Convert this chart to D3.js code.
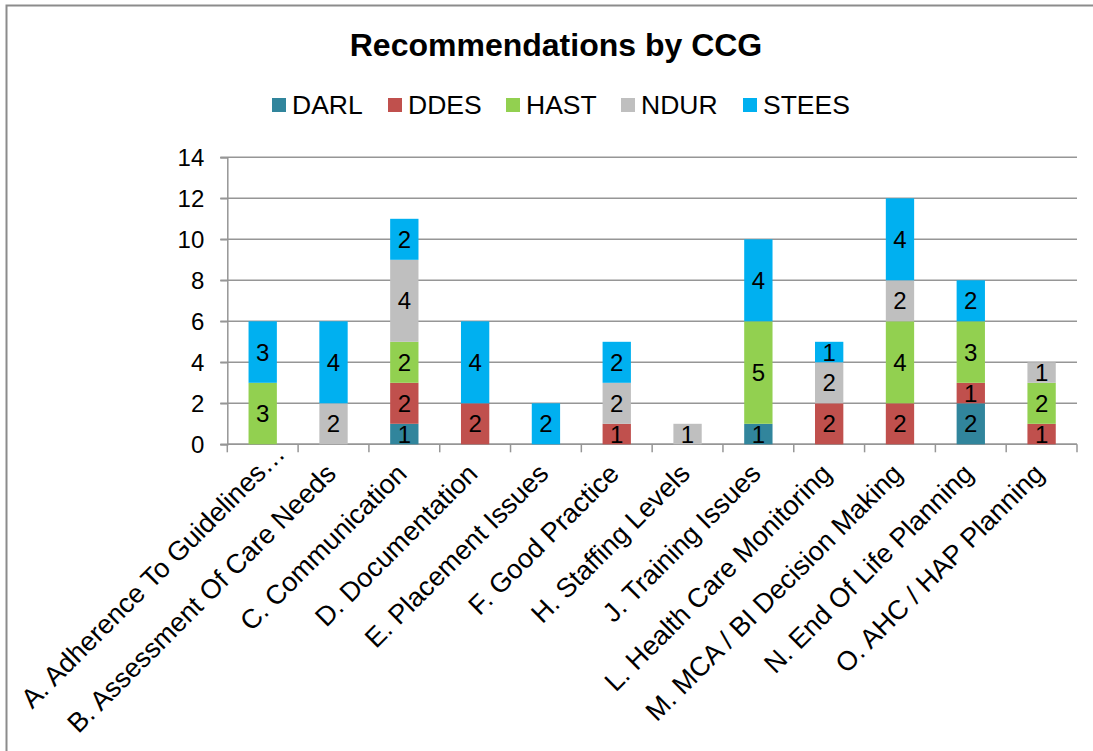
<!DOCTYPE html>
<html>
<head>
<meta charset="utf-8">
<script src="https://cdn.jsdelivr.net/npm/d3@7"></script>
<style>
  html, body { margin: 0; padding: 0; background: #fff; }
  svg { display: block; font-family: "Liberation Sans", Arial, sans-serif; }
</style>
</head>
<body>
<svg id="chart" width="1093" height="751"></svg>
<script>
const categories = [
  "A. Adherence To Guidelines…",
  "B. Assessment Of Care Needs",
  "C. Communication",
  "D. Documentation",
  "E. Placement Issues",
  "F. Good Practice",
  "H. Staffing Levels",
  "J. Training Issues",
  "L. Health Care Monitoring",
  "M. MCA / BI Decision Making",
  "N. End Of Life Planning",
  "O. AHC / HAP Planning"
];
const seriesNames = ["DARL", "DDES", "HAST", "NDUR", "STEES"];
const DARL  = [0, 0, 1, 0, 0, 0, 0, 1, 0, 0, 2, 0];
const DDES  = [0, 0, 2, 2, 0, 1, 0, 0, 2, 2, 1, 1];
const HAST  = [3, 0, 2, 0, 0, 0, 0, 5, 0, 4, 3, 2];
const NDUR  = [0, 2, 4, 0, 0, 2, 1, 0, 2, 2, 0, 1];
const STEES = [3, 4, 2, 4, 2, 2, 0, 4, 1, 4, 2, 0];
const yTicks = [0, 2, 4, 6, 8, 10, 12, 14];
const title = "Recommendations by CCG";
const colors = ["#31859C", "#C0504D", "#92D050", "#BFBFBF", "#00B0F0"];

const seriesValues = [DARL, DDES, HAST, NDUR, STEES];
const rows = categories.map((c, i) => {
  const r = { category: c };
  seriesNames.forEach((s, k) => { r[s] = seriesValues[k][i]; });
  return r;
});

const svg = d3.select("#chart");
const plot = { left: 227.3, right: 1077, top: 157.3, bottom: 444.3 };

// outer chart border
svg.append("rect")
  .attr("x", 6.5).attr("y", 5.5)
  .attr("width", 1200).attr("height", 900)
  .attr("fill", "#fff").attr("stroke", "#8c8c8c").attr("stroke-width", 2);

const x = d3.scaleBand()
  .domain(categories)
  .range([plot.left, plot.right])
  .paddingInner(0.6)
  .paddingOuter(0.3);

const y = d3.scaleLinear().domain([0, 14]).range([plot.bottom, plot.top]);
const color = d3.scaleOrdinal().domain(seriesNames).range(colors);

// gridlines
svg.append("g")
  .selectAll("line")
  .data(yTicks)
  .join("line")
  .attr("x1", plot.left - 7).attr("x2", plot.right)
  .attr("y1", d => y(d)).attr("y2", d => y(d))
  .attr("stroke", "#969696").attr("stroke-width", 1.5);

// y axis
const yAxis = svg.append("g")
  .attr("transform", `translate(${plot.left},0)`)
  .call(d3.axisLeft(y).tickValues(yTicks).tickSize(7).tickPadding(16).tickFormat(d3.format("d")));
yAxis.select(".domain").attr("stroke", "#969696").attr("stroke-width", 1.5);
yAxis.selectAll(".tick line").attr("stroke", "#969696").attr("stroke-width", 1.5);
yAxis.selectAll(".tick text")
  .attr("font-size", 24).attr("fill", "#000")
  .attr("font-family", "Liberation Sans, Arial, sans-serif")
  .attr("dy", "0.36em");

// x axis line and ticks at band boundaries
const boundaries = d3.range(categories.length + 1).map(i => plot.left + i * x.step());
svg.append("line")
  .attr("x1", plot.left).attr("x2", plot.right)
  .attr("y1", plot.bottom).attr("y2", plot.bottom)
  .attr("stroke", "#969696").attr("stroke-width", 1.5);
svg.append("g").selectAll("line")
  .data(boundaries)
  .join("line")
  .attr("x1", d => d).attr("x2", d => d)
  .attr("y1", plot.bottom).attr("y2", plot.bottom + 8)
  .attr("stroke", "#969696").attr("stroke-width", 1.5);

// stacked bars
const stacked = d3.stack().keys(seriesNames)(rows);

svg.append("g").selectAll("g")
  .data(stacked)
  .join("g")
  .attr("fill", d => color(d.key))
  .selectAll("rect")
  .data(d => d.filter(s => s[1] - s[0] > 0))
  .join("rect")
  .attr("x", d => x(d.data.category))
  .attr("width", x.bandwidth())
  .attr("y", d => y(d[1]))
  .attr("height", d => y(d[0]) - y(d[1]));

// data labels
const labels = svg.append("g");
stacked.forEach(layer => {
  layer.forEach(s => {
    const v = s[1] - s[0];
    if (v > 0) {
      labels.append("text")
        .attr("x", x(s.data.category) + x.bandwidth() / 2)
        .attr("y", (y(s[0]) + y(s[1])) / 2)
        .attr("dy", "0.36em")
        .attr("text-anchor", "middle")
        .attr("font-size", 24)
        .attr("fill", "#000")
        .text(v);
    }
  });
});

// x category labels, rotated (truncated label sits further along its baseline)
svg.append("g").selectAll("text")
  .data(categories)
  .join("text")
  .attr("transform", d => {
    const shift = d.endsWith("…") ? 20 : 0;
    return `translate(${x(d) + x.bandwidth() / 2 + 4 + shift},${plot.bottom + 31 - shift}) rotate(-45)`;
  })
  .attr("text-anchor", "end")
  .attr("font-size", 27)
  .attr("fill", "#000")
  .text(d => d);

// title
svg.append("text")
  .attr("x", 556).attr("y", 56)
  .attr("text-anchor", "middle")
  .attr("font-size", 32)
  .attr("font-weight", "bold")
  .attr("fill", "#000")
  .text(title);

// legend
const legendX = [272, 388, 506, 621, 743];
const leg = svg.append("g").selectAll("g")
  .data(seriesNames)
  .join("g")
  .attr("transform", (d, i) => `translate(${legendX[i]},0)`);
leg.append("rect")
  .attr("x", 0).attr("y", 98)
  .attr("width", 14).attr("height", 14)
  .attr("fill", d => color(d));
leg.append("text")
  .attr("x", 20).attr("y", 114)
  .attr("font-size", 26.5)
  .attr("fill", "#000")
  .text(d => d);
</script>
</body>
</html>
